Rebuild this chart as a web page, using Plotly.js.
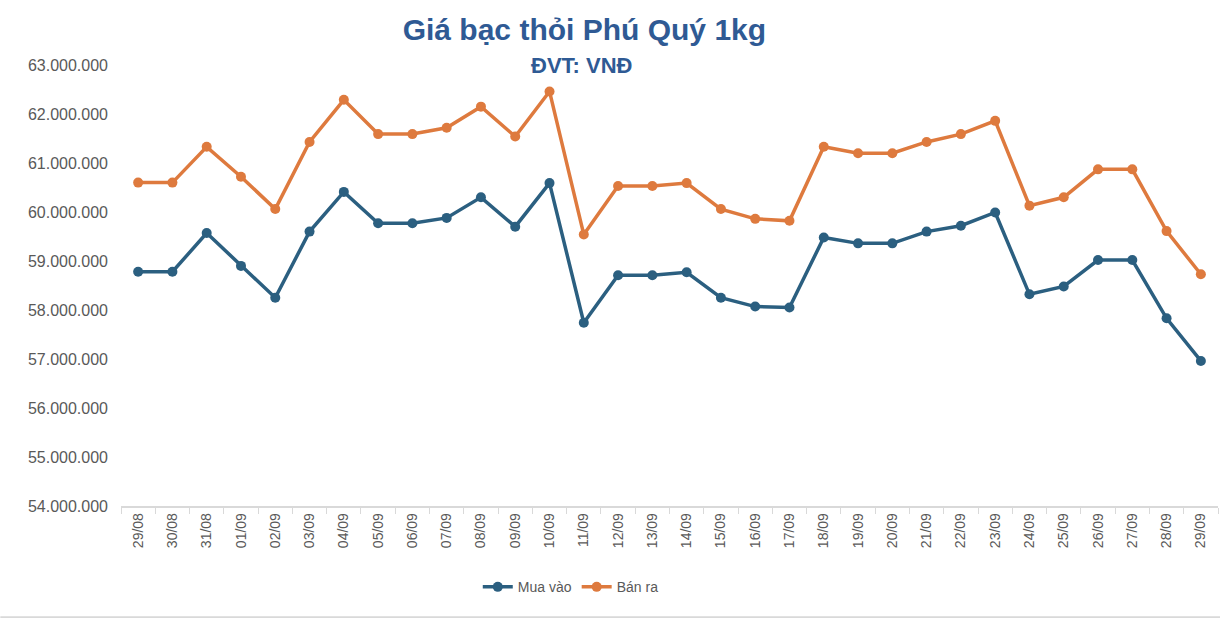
<!DOCTYPE html>
<html>
<head>
<meta charset="utf-8">
<script src="https://cdn.plot.ly/plotly-3.0.1.min.js"></script>
<style>html,body{margin:0;padding:0;background:#fff;}#chart{width:1220px;height:618px;}</style>
</head>
<body>
<div id="chart"></div>
<script>
const dates = ["29/08","30/08","31/08","01/09","02/09","03/09","04/09","05/09","06/09","07/09","08/09","09/09","10/09","11/09","12/09","13/09","14/09","15/09","16/09","17/09","18/09","19/09","20/09","21/09","22/09","23/09","24/09","25/09","26/09","27/09","28/09","29/09"];
const muaVao = [58780000,58780000,59570000,58900000,58250000,59600000,60410000,59770000,59770000,59880000,60300000,59700000,60590000,57740000,58710000,58710000,58770000,58250000,58070000,58050000,59480000,59360000,59360000,59600000,59720000,59990000,58320000,58480000,59020000,59020000,57830000,56960000];
const banRa = [60600000,60600000,61330000,60720000,60060000,61430000,62290000,61590000,61590000,61720000,62150000,61540000,62460000,59540000,60530000,60530000,60590000,60060000,59860000,59820000,61330000,61200000,61200000,61430000,61590000,61860000,60130000,60300000,60870000,60870000,59610000,58730000];
const yTicks = [54000000,55000000,56000000,57000000,58000000,59000000,60000000,61000000,62000000,63000000];
const yTickText = yTicks.map(v => v.toString().replace(/\B(?=(\d{3})+(?!\d))/g, "."));

const narrow = "'Liberation Sans Narrow','Arial Narrow','Liberation Sans',sans-serif";

const traces = [
  {x: dates, y: muaVao, name: "Mua vào", type: "scatter", mode: "lines+markers",
   line: {color: "#2B5F80", width: 3.5}, marker: {color: "#2B5F80", size: 10}},
  {x: dates, y: banRa, name: "Bán ra", type: "scatter", mode: "lines+markers",
   line: {color: "#DE7A3E", width: 3.5}, marker: {color: "#DE7A3E", size: 10}}
];

const layout = {
  width: 1220, height: 618,
  margin: {l: 121, r: 2, t: 65, b: 112},
  paper_bgcolor: "#fff", plot_bgcolor: "#fff",
  showlegend: true,
  legend: {orientation: "h", x: 0.41, xanchor: "center", y: -0.148, yanchor: "top",
           font: {family: narrow, size: 14, color: "#595959"}},
  title: {text: "<b>Giá bạc thỏi Phú Quý 1kg</b>", x: 0.479, xanchor: "center", y: 0.952, yanchor: "middle",
          font: {family: narrow, size: 30, color: "#2F5A94"}},
  annotations: [{text: "<b>ĐVT: VNĐ</b>", xref: "paper", yref: "paper", x: 0.42, xanchor: "center",
                 y: 1.0, yanchor: "middle", showarrow: false,
                 font: {family: narrow, size: 22, color: "#2F5A94"}}],
  xaxis: {type: "category", tickangle: -90, tickson: "boundaries", ticks: "outside", ticklen: 6,
          tickcolor: "#D9D9D9", showline: true, linecolor: "#D9D9D9", linewidth: 1.5,
          showgrid: false, zeroline: false, range: [-0.5, 31.5],
          tickfont: {family: "'Liberation Sans',Arial,sans-serif", size: 14, color: "#595959"}},
  yaxis: {range: [54000000, 63000000], tickvals: yTicks, ticktext: yTickText,
          showgrid: false, zeroline: false, showline: false, ticks: "", ticklabelstandoff: 12,
          tickfont: {family: narrow, size: 16, color: "#595959"}},
  shapes: [{type: "line", xref: "paper", yref: "paper", x0: -0.11, x1: 1.01, y0: -0.252, y1: -0.252,
            line: {color: "#D9D9D9", width: 2}}]
};

Plotly.newPlot("chart", traces, layout, {displayModeBar: false, staticPlot: true});
</script>
</body>
</html>
